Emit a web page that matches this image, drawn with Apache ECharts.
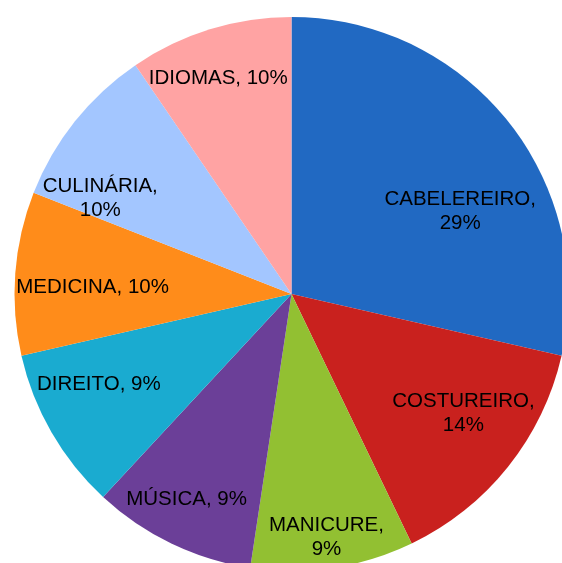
<!DOCTYPE html>
<html>
<head>
<meta charset="utf-8">
<script src="https://cdn.jsdelivr.net/npm/echarts@6/dist/echarts.min.js"></script>
<style>
  html, body { margin: 0; padding: 0; background: #fff; }
  #chart { width: 562px; height: 563px; }
</style>
</head>
<body>
<div id="chart"></div>
<script>
// chart data (counts, 21 in total) and the percent labels as printed
var categories = ['CABELEREIRO', 'COSTUREIRO', 'MANICURE', 'MÚSICA', 'DIREITO', 'MEDICINA', 'CULINÁRIA', 'IDIOMAS']
var counts = [6, 3, 2, 2, 2, 2, 2, 2]
var percentLabels = [29, 14, 9, 9, 9, 10, 10, 10]

// styling
var colorArr = ['#2169c2', '#c9211e', '#92c032', '#6b3f98', '#1aabd0', '#ff8c1a', '#a3c6ff', '#ffa3a3']
var wrapNames = ['CABELEREIRO', 'COSTUREIRO', 'MANICURE', 'CULINÁRIA']
// label placement: rotate (deg, clockwise) and distance from centre (px)
var labelShift = [12.4, -3.9, 0.4, 1.3, 4.8, -2.3, -11.9, -1.6]
var labelDist = [188, 209, 246, 231, 213, 199, 214, 228]

var cx = 291.5, cy = 294

var chart = echarts.init(document.getElementById('chart'), null, { renderer: 'canvas' })

var seriesData = []
for (var i = 0; i < categories.length; i++) {
  seriesData.push({
    name: categories[i],
    value: counts[i],
    itemStyle: { color: colorArr[i] }
  })
}

chart.setOption({
  backgroundColor: '#ffffff',
  animation: false,
  series: [{
    type: 'pie',
    center: [cx, cy],
    radius: [0, 277],
    startAngle: 90,
    clockwise: true,
    data: seriesData,
    itemStyle: { borderWidth: 0 },
    emphasis: { disabled: true },
    label: {
      show: true,
      position: 'inside',
      color: '#000',
      fontFamily: 'Liberation Sans, Arial, sans-serif',
      fontSize: 20.5,
      lineHeight: 24,
      formatter: function (p) {
        var sep = wrapNames.indexOf(p.name) >= 0 ? ',\n' : ', '
        return p.name + sep + percentLabels[p.dataIndex] + '%'
      }
    },
    labelLine: { show: false },
    labelLayout: function (params) {
      var r = params.labelRect
      var lx = r.x + r.width / 2 - cx
      var ly = r.y + r.height / 2 - cy
      var ang = Math.atan2(lx, -ly) + labelShift[params.dataIndex] * Math.PI / 180
      var d = labelDist[params.dataIndex]
      return {
        x: cx + d * Math.sin(ang),
        y: cy - d * Math.cos(ang),
        align: 'center',
        verticalAlign: 'middle'
      }
    }
  }]
})
</script>
</body>
</html>
